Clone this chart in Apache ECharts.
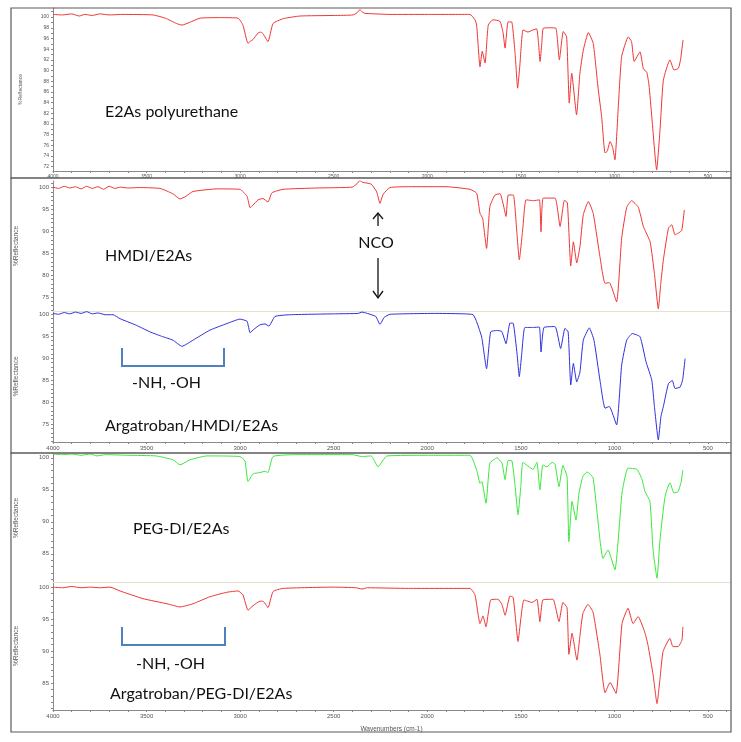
<!DOCTYPE html>
<html>
<head>
<meta charset="utf-8">
<script src="https://cdn.jsdelivr.net/npm/echarts@6/dist/echarts.min.js"></script>
<style>
  html, body { margin: 0; padding: 0; background: #fff; }
  #chart { width: 741px; height: 742px; }
</style>
</head>
<body>
<div id="chart"></div>
<script>
// spectra: [wavenumber, %reflectance]
const e2as = [[4000,100.5],[3950,100.4],[3900,100.6],[3860,100.2],[3830,100.5],[3790,100.3],[3750,100.6],[3700,100.4],[3626,100.5],[3466,100.4],[3400,99.8],[3340,98.8],[3311,98.5],[3270,99.0],[3214,99.8],[3100,99.9],[3011,99.8],[2985,98.5],[2958,95.1],[2940,95.6],[2931,95.8],[2905,97.0],[2890,97.2],[2878,96.9],[2851,95.4],[2824,98.8],[2770,99.7],[2680,100.2],[2500,100.3],[2397,100.4],[2375,100.8],[2360,101.4],[2345,100.9],[2333,100.7],[2200,100.5],[2000,100.5],[1772,100.5],[1745,99.5],[1736,98.5],[1718,90.7],[1706,93.6],[1691,91.4],[1674,98.5],[1649,99.5],[1611,99.2],[1595,97.1],[1584,94.2],[1568,99.1],[1549,99.1],[1530,93],[1517,86.7],[1505,91],[1488,97.6],[1462,97.2],[1435,97.6],[1415,97.8],[1405,95],[1397,91.7],[1388,95],[1380,97.9],[1344,98.0],[1312,97.9],[1294,92.0],[1273,97.3],[1255,96.3],[1241,83.9],[1228,89.5],[1202,81.7],[1184,89.5],[1166,93.8],[1139,97.1],[1113,95.1],[1086,86.4],[1068,81.4],[1050,74.6],[1038,74.9],[1023,76.7],[1009,75.6],[997,73.3],[979,83.2],[961,92.6],[926,96.3],[908,95.4],[894,91.7],[863,93.5],[845,90.3],[827,89.7],[815,87.3],[800,81.4],[774,71.4],[756,78.9],[738,88.2],[703,92.0],[681,90.1],[658,90.4],[646,92.1],[633,95.7]];

const hmdi = [[4000,100.1],[3970,99.8],[3940,100.3],[3910,99.9],[3880,100.2],[3850,99.7],[3820,100.3],[3790,99.8],[3760,100.2],[3730,99.6],[3700,100.3],[3670,99.8],[3640,100.1],[3600,99.9],[3540,100.0],[3428,99.8],[3360,98.6],[3321,97.4],[3290,98.0],[3252,99.1],[3124,99.7],[3001,99.6],[2963,98.0],[2947,95.4],[2931,96.0],[2904,97.2],[2878,97.5],[2851,96.7],[2830,98.8],[2771,99.6],[2589,99.9],[2400,100.1],[2375,100.9],[2360,101.6],[2345,101.2],[2300,100.8],[2270,99],[2253,96.4],[2235,98.5],[2199,100.0],[2100,100.2],[1900,100.2],[1772,99.6],[1736,98.7],[1718,94.1],[1704,93.0],[1683,86.1],[1665,95.7],[1638,98.3],[1611,98.6],[1593,96.0],[1579,93.4],[1567,98.3],[1540,98.3],[1522,90.3],[1508,83.5],[1490,90.3],[1472,97.2],[1433,97.0],[1401,97.2],[1392,89.9],[1380,97.6],[1317,97.6],[1290,91.1],[1267,97.1],[1251,96.5],[1233,82.1],[1219,87.6],[1201,82.8],[1184,86.5],[1166,93.8],[1139,96.8],[1113,94.1],[1077,84.2],[1050,78.1],[1027,78.3],[988,73.9],[961,88.4],[934,95.5],[908,97.0],[872,95.5],[845,91.1],[809,87.6],[786,80.4],[765,72.3],[752,78.1],[738,83.5],[711,90.7],[693,91.5],[676,89.2],[658,89.6],[640,90.2],[626,94.9]];

const argaHmdi = [[4000,100.2],[3970,100.0],[3940,100.4],[3910,100.1],[3880,100.5],[3850,100.2],[3820,100.6],[3790,100.1],[3760,100.3],[3720,99.9],[3679,99.9],[3642,99.0],[3560,97.6],[3482,96.0],[3420,95.0],[3359,94.1],[3311,92.7],[3252,94.1],[3161,96.4],[3070,97.9],[3001,98.9],[2963,98.4],[2947,95.8],[2926,96.6],[2894,97.6],[2867,97.8],[2846,97.3],[2814,99.5],[2734,99.9],[2500,100.1],[2370,100.2],[2349,100.5],[2320,100.2],[2275,99.5],[2253,97.7],[2230,99.3],[2199,100.0],[1948,100.2],[1800,100.1],[1755,99.9],[1736,98.3],[1709,94.8],[1683,87.6],[1661,96.0],[1629,96.3],[1602,96.1],[1579,93.3],[1558,98.0],[1540,97.9],[1520,91],[1508,85.8],[1495,91],[1478,97.0],[1433,97.0],[1401,97.1],[1392,91.4],[1376,97.0],[1317,97.2],[1287,92.2],[1264,96.8],[1247,96.0],[1233,83.9],[1219,88.8],[1201,84.6],[1184,86.8],[1166,94.1],[1134,96.9],[1109,94.1],[1077,85.0],[1050,78.6],[1027,79.0],[988,74.8],[961,88.4],[934,94.1],[904,95.6],[863,94.9],[831,89.2],[800,85.0],[786,79.0],[765,71.4],[751,76.7],[738,79.0],[711,84.2],[690,84.9],[676,83.1],[649,83.4],[635,85.1],[622,89.9]];

const pegdi = [[4000,100.6],[3950,100.5],[3900,100.6],[3850,100.4],[3800,100.6],[3765,100.3],[3720,100.5],[3600,100.4],[3450,100.3],[3359,99.7],[3321,98.9],[3268,99.7],[3177,100.3],[3001,100.2],[2974,99.5],[2958,96.3],[2931,97.5],[2894,97.7],[2867,97.9],[2851,97.7],[2824,100.2],[2700,100.5],[2400,100.5],[2350,100.2],[2300,100.3],[2263,98.6],[2215,100.3],[2000,100.4],[1772,100.4],[1734,97.9],[1718,96.0],[1708,96.3],[1686,92.9],[1665,99.2],[1627,100.0],[1601,99.2],[1584,96.6],[1568,99.6],[1547,99.5],[1530,95.5],[1515,91.1],[1500,95.5],[1488,99.3],[1435,98.2],[1414,99.3],[1398,95.0],[1382,98.9],[1360,98.6],[1333,99.3],[1317,99.0],[1296,95.5],[1275,98.8],[1253,97.1],[1243,86.9],[1226,93.2],[1205,90.3],[1189,94.5],[1168,97.1],[1146,97.8],[1114,96.9],[1077,87.2],[1061,84.3],[1034,85.6],[997,82.5],[959,94.5],[927,98.4],[879,98.2],[852,96.6],[836,94.7],[810,93.2],[793,85.6],[772,81.2],[756,87.2],[729,94.0],[703,96.1],[681,94.5],[660,94.7],[644,96.1],[634,98.1]];

const argaPeg = [[4000,100.0],[3950,99.9],[3900,100.1],[3850,99.9],[3800,100.0],[3750,99.9],[3695,100.0],[3642,99.4],[3519,98.2],[3391,97.4],[3321,96.9],[3252,97.4],[3161,98.5],[3070,99.2],[3011,99.4],[2985,98.8],[2958,96.4],[2931,97.1],[2894,97.8],[2878,97.8],[2851,96.8],[2824,99.3],[2771,99.8],[2500,100.0],[2380,99.9],[2349,99.7],[2320,99.9],[2100,99.8],[1772,99.8],[1745,98.8],[1718,94.3],[1702,95.5],[1686,93.8],[1661,98.0],[1622,98.1],[1601,97.3],[1584,95.6],[1558,98.6],[1541,98.4],[1528,95],[1515,91.5],[1500,95],[1483,98.0],[1440,97.6],[1414,98.1],[1398,94.6],[1382,98.0],[1328,98.1],[1296,94.6],[1275,97.6],[1253,96.8],[1243,89.5],[1226,92.8],[1200,88.6],[1184,92.4],[1168,95.9],[1141,97.3],[1114,96.1],[1077,89.4],[1050,83.5],[1023,85.1],[991,83.4],[959,94.3],[927,96.7],[900,94.3],[873,95.4],[836,92.8],[820,90.9],[793,86.3],[772,81.8],[756,85.7],[740,89.9],[703,92.0],[687,90.7],[660,90.7],[639,91.7],[634,93.8]];

// tick labels
const xTicks = [4000, 3500, 3000, 2500, 2000, 1500, 1000, 500];
const yTicksTop = [72, 74, 76, 78, 80, 82, 84, 86, 88, 90, 92, 94, 96, 98, 100];
const yTicksMid = [75, 80, 85, 90, 95, 100];
const yTicksLow = [85, 90, 95, 100];

const spectra = [
  { data: e2as,     color: '#ee3535' },
  { data: hmdi,     color: '#ee3535' },
  { data: argaHmdi, color: '#2f2fdc' },
  { data: pegdi,    color: '#3ae83a' },
  { data: argaPeg,  color: '#ee3535' },
];

// plot boxes (px) and y ranges
const grids = [
  { top: 8,   height: 163, min: 71.2,  max: 101.7,  ticks: yTicksTop, xLabels: true  },
  { top: 181, height: 130, min: 71.8,  max: 101.5,  ticks: yTicksMid, xLabels: false },
  { top: 311, height: 131, min: 70.9,  max: 100.75, ticks: yTicksMid, xLabels: true  },
  { top: 454, height: 128, min: 80.6,  max: 100.6,  ticks: yTicksLow, xLabels: false },
  { top: 582, height: 128, min: 80.8,  max: 100.8,  ticks: yTicksLow, xLabels: true  },
];

const labelFont = { fontFamily: 'Liberation Sans', color: '#555' };

function range(a, b, step) {
  const out = [];
  for (let v = a; v <= b + 1e-9; v += step) out.push(+v.toFixed(2));
  return out;
}

const xMinorTicks = range(400, 4000, 100);

const option = {
  animation: false,
  backgroundColor: '#fff',
  grid: grids.map(g => ({ left: 53, right: 11, top: g.top, height: g.height })),
  xAxis: grids.map((g, i) => ({
    type: 'value',
    gridIndex: i,
    min: 382, max: 4000,
    inverse: true,
    name: i === 4 ? 'Wavenumbers (cm-1)' : '',
    nameLocation: 'middle',
    nameGap: 16,
    nameTextStyle: { ...labelFont, fontSize: 6.5 },
    splitLine: { show: false },
    axisLine: { show: true, lineStyle: { color: g.xLabels ? '#8a8a8a' : '#e4e0cc', width: 1 } },
    axisTick: { show: g.xLabels, length: 2, customValues: xMinorTicks, lineStyle: { color: '#888' } },
    axisLabel: {
      show: g.xLabels, customValues: xTicks, margin: 3,
      formatter: v => String(v),
      fontSize: i === 0 ? 5 : 6, ...labelFont,
    },
  })),
  yAxis: grids.map((g, i) => ({
    type: 'value',
    gridIndex: i,
    min: g.min, max: g.max,
    name: '%Reflectance',
    nameLocation: 'middle',
    nameGap: i === 0 ? 30 : 33,
    nameTextStyle: { ...labelFont, fontSize: i === 0 ? 5 : 6.5 },
    splitLine: { show: false },
    axisLine: { show: true, lineStyle: { color: '#8a8a8a', width: 1 } },
    axisTick: { show: true, length: 2, customValues: range(Math.ceil(g.min), Math.floor(g.max), 1), lineStyle: { color: '#888' } },
    axisLabel: { customValues: g.ticks, margin: 4, fontSize: i === 0 ? 5 : 6, ...labelFont },
  })),
  series: spectra.map((s, i) => ({
    type: 'line',
    xAxisIndex: i,
    yAxisIndex: i,
    data: s.data,
    showSymbol: false,
    smooth: 0.15,
    lineStyle: { color: s.color, width: 1 },
    silent: true,
  })),
  graphic: [
    // panel frames
    { type: 'rect', shape: { x: 11, y: 8,   width: 720, height: 170 }, style: { fill: null, stroke: '#5a5a5a', lineWidth: 1.2 }, z: 100 },
    { type: 'rect', shape: { x: 11, y: 178, width: 720, height: 275 }, style: { fill: null, stroke: '#5a5a5a', lineWidth: 1.2 }, z: 100 },
    { type: 'rect', shape: { x: 11, y: 453, width: 720, height: 279 }, style: { fill: null, stroke: '#5a5a5a', lineWidth: 1.2 }, z: 100 },
    // sample names
    { type: 'text', x: 105, y: 112, style: { text: 'E2As polyurethane', font: '16px Lato', fill: '#111', verticalAlign: 'middle' } },
    { type: 'text', x: 105, y: 256, style: { text: 'HMDI/E2As', font: '16px Lato', fill: '#111', verticalAlign: 'middle' } },
    { type: 'text', x: 105, y: 426, style: { text: 'Argatroban/HMDI/E2As', font: '16px Lato', fill: '#111', verticalAlign: 'middle' } },
    { type: 'text', x: 133, y: 529, style: { text: 'PEG-DI/E2As', font: '16px Lato', fill: '#111', verticalAlign: 'middle' } },
    { type: 'text', x: 110, y: 694, style: { text: 'Argatroban/PEG-DI/E2As', font: '16px Lato', fill: '#111', verticalAlign: 'middle' } },
    // NCO marker
    { type: 'text', x: 376, y: 243, style: { text: 'NCO', font: '16px Lato', fill: '#111', align: 'center', verticalAlign: 'middle' } },
    { type: 'polyline', shape: { points: [[378, 226], [378, 213]] }, style: { stroke: '#111', lineWidth: 1.3 } },
    { type: 'polyline', shape: { points: [[373, 219], [378, 213], [383, 219]] }, style: { stroke: '#111', lineWidth: 1.3, fill: null } },
    { type: 'polyline', shape: { points: [[378, 258], [378, 298]] }, style: { stroke: '#111', lineWidth: 1.3 } },
    { type: 'polyline', shape: { points: [[373, 291], [378, 298], [383, 291]] }, style: { stroke: '#111', lineWidth: 1.3, fill: null } },
    // -NH, -OH brackets
    { type: 'polyline', shape: { points: [[122, 348], [122, 366], [224, 366], [224, 348]] }, style: { stroke: '#4f81bd', lineWidth: 2, fill: null } },
    { type: 'text', x: 132, y: 383, style: { text: '-NH, -OH', font: '16px Lato', fill: '#111', verticalAlign: 'middle' } },
    { type: 'polyline', shape: { points: [[122, 627], [122, 645], [225, 645], [225, 627]] }, style: { stroke: '#4f81bd', lineWidth: 2, fill: null } },
    { type: 'text', x: 136, y: 664, style: { text: '-NH, -OH', font: '16px Lato', fill: '#111', verticalAlign: 'middle' } },
  ],
};

const chart = echarts.init(document.getElementById('chart'), null, { renderer: 'canvas' });
chart.setOption(option);
</script>
</body>
</html>
